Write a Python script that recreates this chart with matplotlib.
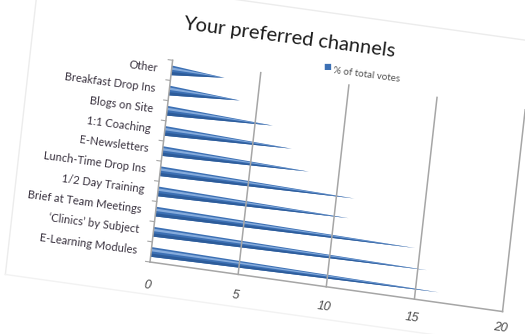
import numpy as np
import matplotlib
matplotlib.use("Agg")
import matplotlib.pyplot as plt
from matplotlib.transforms import Affine2D

# data, bottom category first
categories = ["E-Learning Modules", "\u2018Clinics\u2019 by Subject", "Brief at Team Meetings",
              "1/2 Day Training", "Lunch-Time Drop Ins", "E-Newsletters", "1:1 Coaching",
              "Blogs on Site", "Breakfast Drop Ins", "Other"]
votes = [16.3, 15.5, 14.7, 10.8, 11.0, 8.3, 7.2, 6.0, 4.0, 3.0]
xticks = [0, 5, 10, 15, 20]
title = "Your preferred channels"
series_name = "% of total votes"

plt.rcParams['font.family'] = ['Lato', 'DejaVu Sans']

fig = plt.figure(figsize=(5.25, 3.34), dpi=100)
fig.patch.set_facecolor("white")
ax = fig.add_axes([150 / 525, 72 / 334, 356 / 525, 203 / 334])
ax.set_xlim(0, 20)
ax.set_ylim(0, len(categories))
ax.axis("off")

# the picture is a tilted photo of the chart: skew the whole plot frame
ox, oy = ax.transData.transform((0, 0))
ax_ang = np.radians(8.0)
ay_ang = np.radians(6.4)
skew = Affine2D(np.array([[np.cos(ax_ang), np.sin(ay_ang), 0],
                          [-np.sin(ax_ang), np.cos(ay_ang), 0],
                          [0, 0, 1]]))
T = ax.transData + Affine2D().translate(-ox, -oy) + skew + Affine2D().translate(ox, oy)
rot = -7.5

grid_col = "#a6a6a6"
n = len(categories)

# faint chart border
ax.plot([-8, -8, 26], [-1.6, 13.4, 13.4], color="#ececec", lw=1, transform=T, clip_on=False)
ax.plot([-8, 26], [-1.6, -1.6], color="#f2f2f2", lw=1, transform=T, clip_on=False)

# gridlines and floor
for v in xticks[1:]:
    ax.plot([v, v], [0, n], color=grid_col, lw=1.1, transform=T, clip_on=False)
ax.plot([0, 20], [0, 0], color=grid_col, lw=1.1, transform=T, clip_on=False)
ax.plot([0, 0], [0, n], color=grid_col, lw=1.1, transform=T, clip_on=False)
for k in range(n + 1):
    ax.plot([-0.25, 0], [k, k], color=grid_col, lw=0.8, transform=T, clip_on=False)

# cones
h = 0.24
for i, v in enumerate(votes):
    y = i + 0.5
    ax.fill([0, 0, v], [y - h, y + h, y], color="#3c70b4", lw=0, transform=T, clip_on=False)
    ax.fill([0, 0, v], [y - h, y - 0.08, y], color="#2d5c9a", lw=0, transform=T, clip_on=False)
    ax.fill([0, 0, v], [y + 0.03, y + 0.15, y], color="#85abdc", lw=0, transform=T, clip_on=False)

# category labels
for i, cat in enumerate(categories):
    ax.text(-0.8, i + 0.5, cat, transform=T, ha="right", va="center", rotation=rot,
            rotation_mode="anchor", fontsize=8, color="#3a3340", clip_on=False)

# value tick labels (slight perspective: the row of labels rises to the right)
for v in xticks:
    ax.text(v, -1.15 + 0.016 * v, str(v), transform=T, ha="center", va="center", rotation=rot,
            rotation_mode="anchor", fontsize=9, color="#4a4a4a", style="italic",
            family=["Liberation Sans", "DejaVu Sans"], clip_on=False)

fig.text(0.55, 0.888, title, ha="center", va="center", rotation=rot,
         rotation_mode="anchor", fontsize=14.5, color="#1c1c1c")
fig.text(0.623, 0.80, "\u25a0", ha="center", va="center", fontsize=6,
         color="#3c70b4", family=["DejaVu Sans"])
fig.text(0.635, 0.79, series_name, ha="left", va="center", rotation=rot,
         rotation_mode="anchor", fontsize=7, color="#505050")

fig.savefig("out.png", dpi=100)
